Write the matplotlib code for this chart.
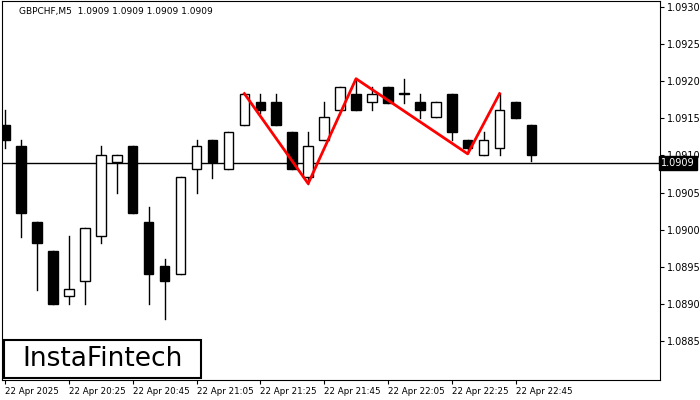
import matplotlib
matplotlib.use("Agg")
import matplotlib.pyplot as plt
from matplotlib.patches import Rectangle

# OHLC per M5 candle, starting 20:05
opens = [1.09141, 1.09112, 1.09011, 1.08971, 1.08911, 1.08931, 1.08991, 1.09091, 1.09112, 1.09011,
         1.08951, 1.08940, 1.09081, 1.09121, 1.09081, 1.09141, 1.09172, 1.09172, 1.09132, 1.09071,
         1.09121, 1.09161, 1.09183, 1.09172, 1.09192, 1.09183, 1.09172, 1.09152, 1.09183, 1.09121,
         1.09101, 1.09110, 1.09172, 1.09141]
highs = [1.09161, 1.09121, 1.09011, 1.08971, 1.08991, 1.09002, 1.09112, 1.09101, 1.09112, 1.09031,
         1.08960, 1.09071, 1.09121, 1.09121, 1.09132, 1.09183, 1.09183, 1.09183, 1.09132, 1.09132,
         1.09172, 1.09192, 1.09203, 1.09192, 1.09192, 1.09203, 1.09183, 1.09172, 1.09183, 1.09121,
         1.09132, 1.09183, 1.09172, 1.09141]
lows = [1.09110, 1.08990, 1.08919, 1.08900, 1.08900, 1.08900, 1.08982, 1.09050, 1.09022, 1.08900,
        1.08880, 1.08940, 1.09050, 1.09070, 1.09081, 1.09141, 1.09157, 1.09141, 1.09081, 1.09062,
        1.09121, 1.09161, 1.09161, 1.09161, 1.09171, 1.09171, 1.09150, 1.09152, 1.09121, 1.09104,
        1.09101, 1.09101, 1.09150, 1.09093]
closes = [1.09120, 1.09022, 1.08982, 1.08900, 1.08920, 1.09002, 1.09101, 1.09101, 1.09022, 1.08940,
          1.08931, 1.09071, 1.09112, 1.09091, 1.09132, 1.09183, 1.09161, 1.09141, 1.09081, 1.09112,
          1.09152, 1.09192, 1.09161, 1.09183, 1.09171, 1.09183, 1.09161, 1.09172, 1.09132, 1.09110,
          1.09121, 1.09161, 1.09150, 1.09100]

# triple top pattern line
zig_idx = [15, 19, 22, 29, 31]
zig_price = [1.09183, 1.09062, 1.09203, 1.09102, 1.09183]

last_price = 1.0909
y_ticks = [1.0885, 1.0890, 1.0895, 1.0900, 1.0905, 1.0910, 1.0915, 1.0920, 1.0925, 1.0930]
x_tick_idx = [0, 4, 8, 12, 16, 20, 24, 28, 32]
x_tick_labels = ["22 Apr 2025", "22 Apr 20:25", "22 Apr 20:45", "22 Apr 21:05", "22 Apr 21:25",
                 "22 Apr 21:45", "22 Apr 22:05", "22 Apr 22:25", "22 Apr 22:45"]

ymin, ymax = 1.087980, 1.093072

fig = plt.figure(figsize=(7, 4), dpi=100)
ax = fig.add_axes([0.003, 0.05, 0.94, 0.947])
w = 0.6
for i in range(len(opens)):
    o, h, l, c = opens[i], highs[i], lows[i], closes[i]
    ax.plot([i, i], [l, h], color="black", lw=1, zorder=2)
    bull = c >= o
    bot = min(o, c)
    ht = max(abs(c - o), 0.000003)
    ax.add_patch(Rectangle((i - w / 2, bot), w, ht, facecolor="white" if bull else "black",
                           edgecolor="black", lw=1, zorder=3))

ax.axhline(last_price, color="black", lw=1, zorder=1)
ax.plot(zig_idx, zig_price, color="#ff0000", lw=2, zorder=4)

ax.set_xlim(-3 / 16, 657 / 16)
ax.set_ylim(ymin, ymax)
ax.yaxis.tick_right()
ax.set_yticks(y_ticks)
ax.set_yticklabels([f"{v:.4f}" for v in y_ticks], fontsize=7)
ax.set_xticks(x_tick_idx)
ax.set_xticklabels(x_tick_labels, fontsize=6.3, ha="left")
ax.tick_params(length=3, pad=2)

ax.text(1.002, (last_price - ymin) / (ymax - ymin), f"{last_price:.4f}",
        transform=ax.transAxes, fontsize=7, color="white", va="center", ha="left", zorder=10,
        bbox=dict(facecolor="black", edgecolor="black", pad=1.5))
ax.text(0.025, 0.985, "GBPCHF,M5  1.0909 1.0909 1.0909 1.0909", transform=ax.transAxes,
        fontsize=6.5, va="top", ha="left")

ax.add_patch(Rectangle((0.003, 0.005), 0.3, 0.1, transform=ax.transAxes, facecolor="white",
                       edgecolor="black", lw=1.5, zorder=5))
ax.text(0.153, 0.055, "InstaFintech", transform=ax.transAxes, fontsize=19, ha="center",
        va="center", zorder=6)

fig.savefig("out.png", dpi=100)
